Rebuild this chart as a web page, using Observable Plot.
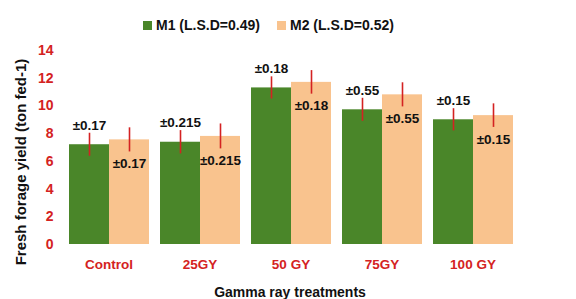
<!DOCTYPE html>
<html>
<head>
<meta charset="utf-8">
<script src="https://cdn.jsdelivr.net/npm/d3@7"></script>
<script src="https://cdn.jsdelivr.net/npm/@observablehq/plot@0.6"></script>
<style>
  body { margin: 0; background: #fff; font-family: "Liberation Sans", Arial, sans-serif; }
  #wrap { position: relative; width: 576px; height: 299px; overflow: hidden; }
  #legend { height: 36px; position: relative; font-weight: bold; font-size: 14px; color: #111; }
  .item { position: absolute; top: 17px; display: flex; align-items: center; line-height: 16px; }
  .sw { width: 9px; height: 9px; margin-right: 4px; display: inline-block; }
  #xtitle { position: absolute; left: 0; width: 580px; top: 284px; text-align: center; font-weight: bold; font-size: 14px; color: #111; line-height: 16px; }
  #ytitle { position: absolute; left: 21px; top: 162px; transform: translate(-50%, -50%) rotate(-90deg); white-space: nowrap; font-weight: bold; font-size: 15px; color: #111; line-height: 16px; }
</style>
</head>
<body>
<div id="wrap">
  <div id="legend"></div>
  <div id="chart"></div>
  <div id="xtitle"></div>
  <div id="ytitle"></div>
</div>
<script>
const treatments = ["Control", "25GY", "50 GY", "75GY", "100 GY"];
const series = ["M1", "M2"];
const seriesLabels = ["M1 (L.S.D=0.49)", "M2 (L.S.D=0.52)"];
const colors = ["#4a8629", "#f9c38e"];
const m1Values = [7.2, 7.38, 11.3, 9.72, 9.0];
const m2Values = [7.55, 7.8, 11.7, 10.8, 9.3];
const m1Err = [0.83, 0.84, 0.8, 0.83, 0.8];
const m2Err = [0.87, 0.9, 0.85, 0.87, 0.85];
const m1Labels = ["±0.17", "±0.215", "±0.18", "±0.55", "±0.15"];
const m2Labels = ["±0.17", "±0.215", "±0.18", "±0.55", "±0.15"];
const yTicks = [0, 2, 4, 6, 8, 10, 12, 14];
const xTitle = "Gamma ray treatments";
const yTitle = "Fresh forage yield (ton fed-1)";

const data = [];
treatments.forEach((t, i) => {
  data.push({treatment: t, series: "M1", value: m1Values[i], err: m1Err[i], label: m1Labels[i]});
  data.push({treatment: t, series: "M2", value: m2Values[i], err: m2Err[i], label: m2Labels[i]});
});

// legend
const legend = document.getElementById("legend");
const legendX = [143, 277];
series.forEach((s, i) => {
  const it = document.createElement("div");
  it.className = "item";
  it.style.left = legendX[i] + "px";
  it.innerHTML = `<span class="sw" style="background:${colors[i]}"></span><span>${seriesLabels[i]}</span>`;
  legend.appendChild(it);
});
document.getElementById("xtitle").textContent = xTitle;
document.getElementById("ytitle").textContent = yTitle;

const red = "#d42222";
const chart = Plot.plot({
  width: 576,
  height: 263,
  marginLeft: 67,
  marginRight: 63,
  marginTop: 14,
  marginBottom: 55,
  style: {fontFamily: "Liberation Sans, Arial, sans-serif", fontWeight: "bold", background: "#fff"},
  fx: {domain: treatments, padding: 0.11, label: null},
  x: {domain: series, padding: 0, axis: null},
  y: {domain: [0, 14], axis: null},
  color: {domain: series, range: colors},
  marks: [
    Plot.barY(data, {fx: "treatment", x: "series", y: "value", fill: "series"}),
    Plot.ruleX(data, {fx: "treatment", x: "series", y1: d => d.value - d.err, y2: d => d.value + d.err, stroke: red, strokeWidth: 1.6}),
    Plot.text(data.filter(d => d.series === "M1"), {fx: "treatment", x: "series", y: d => d.value + d.err, text: "label", dy: -8, fontSize: 13.5, fontWeight: "bold", fill: "#111"}),
    Plot.text(data.filter(d => d.series === "M2"), {fx: "treatment", x: "series", y: d => d.value - d.err, text: "label", dy: 12, fontSize: 13.5, fontWeight: "bold", fill: "#111"}),
    Plot.axisY({ticks: yTicks, tickSize: 0, tickPadding: 15, fontSize: 14, fontWeight: "bold", color: red, label: null}),
    Plot.axisFx({anchor: "bottom", tickSize: 0, tickPadding: 15, fontSize: 13.5, fontWeight: "bold", color: red, label: null})
  ]
});
document.getElementById("chart").appendChild(chart);
</script>
</body>
</html>
